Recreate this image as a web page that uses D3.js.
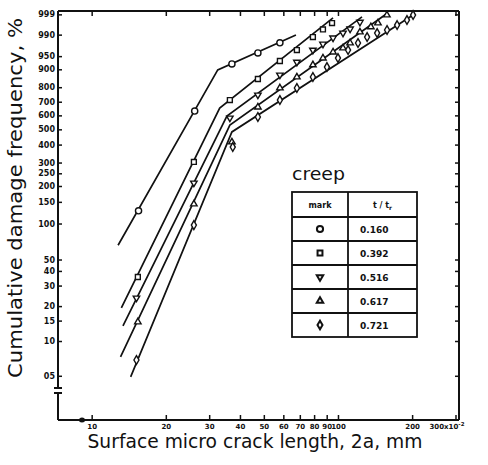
<!DOCTYPE html>
<html lang="en">
<head>
  <meta charset="UTF-8">
  <title>Cumulative damage frequency - creep</title>
  <script src="https://cdnjs.cloudflare.com/ajax/libs/d3/7.8.5/d3.min.js"></script>
  <style>
    body {
      margin: 0;
      background: white;
    }
    svg {
      display: block;
      background: white;
    }
    .tick text {
      font-family: "DejaVu Sans", sans-serif;
      font-weight: bold;
      font-size: 8px;
      fill: #111;
    }
    .xax .tick text {
      font-size: 7px;
    }
    .tick line {
      stroke: #111;
      stroke-width: 1.5;
    }
    .title {
      font-family: "DejaVu Sans", sans-serif;
      font-size: 19px;
      fill: #111;
    }
    .tbl {
      font-family: "DejaVu Sans", sans-serif;
      font-weight: bold;
      fill: #111;
    }
  </style>
</head>
<body>
  <script>
    // t/tr of each series, and the mark used for it
    var tRatio = ["0.160", "0.392", "0.516", "0.617", "0.721"];
    var marks = ["circle", "square", "down", "up", "diamond"];

    // measured points: [crack length (x10^-2 mm), cumulative frequency %]
    var pts160 = [[15.5, 12.7], [26.2, 63.2], [37.1, 92.3], [47.3, 95.9], [58.1, 98.0]];
    var pts392 = [[15.4, 3.55], [26.0, 30.3], [36.4, 71.2], [47.3, 85.0], [58.1, 93.4],
                  [68.1, 96.6], [79.1, 98.76], [86.9, 99.4], [94.6, 99.7]];
    var pts516 = [[15.2, 2.35], [26.0, 21.1], [36.4, 58.1], [47.3, 74.8], [58.1, 87.2],
                  [68.1, 93.0], [79.1, 96.6], [86.9, 97.8], [95.5, 98.66], [104.8, 99.14],
                  [112, 99.43], [122.8, 99.73]];
    var pts617 = [[15.4, 1.46], [26.0, 14.4], [37.1, 41.6], [47.3, 66.1], [58.1, 79.5],
                  [68.1, 86.1], [79.1, 91.9], [86.9, 94.4], [95.5, 96.1], [104.8, 97.05],
                  [112, 97.97], [122.8, 99.22], [136, 99.54], [145.3, 99.7], [158, 99.89]];
    var pts721 = [[15.2, 0.685], [26.0, 9.7], [37.4, 38.5], [47.3, 58.8], [58.1, 71.2],
                  [68.1, 79.5], [79.1, 86.1], [90.2, 91.0], [100, 94.4], [109.9, 96.6],
                  [120.6, 97.97], [131.3, 98.76], [144.2, 99.14], [158.2, 99.36],
                  [173.8, 99.62], [190.6, 99.79], [201.8, 99.89]];

    // fitted bilinear lines (start, knee, end)
    var fit160 = [[12.8, 6.6], [32.5, 89.7], [67.5, 98.96]];
    var fit392 = [[13.2, 1.93], [33.1, 65.4], [95.5, 99.84]];
    var fit516 = [[13.4, 1.35], [35.4, 59.5], [125.2, 99.86]];
    var fit617 = [[13.1, 0.73], [36.4, 53.0], [159.7, 99.92]];
    var fit721 = [[14.4, 0.49], [37.1, 48.2], [201.8, 99.89]];

    var xTicks = [10, 20, 30, 40, 50, 60, 70, 80, 90, 100, 200, 300];
    var xTickLabels = ["10", "20", "30", "40", "50", "60", "70", "80", "90", "100", "200", "300x10"];
    var yTicks = [99.9, 99, 95, 90, 80, 70, 60, 50, 40, 30, 25, 20, 15, 10, 5, 4, 3, 2, 1.5, 1, 0.5];
    var yTickLabels = ["999", "990", "950", "900", "800", "700", "600", "500", "400", "300",
                       "250", "200", "150", "100", "50", "40", "30", "20", "15", "10", "05"];

    var allPts = [pts160, pts392, pts516, pts617, pts721];
    var allFits = [fit160, fit392, fit516, fit617, fit721];

    var w = 488;
    var h = 465;
    var pLeft = 58, pRight = 459, pTop = 11, pBottom = 420;

    // weibull probability paper
    function wb(p) {
      return Math.log(-Math.log(1 - p / 100));
    }

    var svg = d3.select("body").append("svg")
      .attr("width", w)
      .attr("height", h);

    var xScale = d3.scaleLog()
      .domain([7.3, 310])
      .range([pLeft, pRight]);

    var yScale = d3.scaleLinear()
      .domain([-6.18, 2.0])
      .range([pBottom, pTop]);

    // axes, ticks pointing inward
    svg.append("g")
      .attr("transform", "translate(" + pLeft + ",0)")
      .call(d3.axisLeft(yScale)
        .tickValues(yTicks.map(wb))
        .tickFormat(function(d, i) { return yTickLabels[i]; })
        .tickSizeInner(-4).tickSizeOuter(0).tickPadding(3))
      .call(function(g) { g.select(".domain").remove(); });

    svg.append("g")
      .attr("transform", "translate(" + pRight + ",0)")
      .call(d3.axisRight(yScale)
        .tickValues(yTicks.map(wb))
        .tickFormat("")
        .tickSizeInner(-4).tickSizeOuter(0))
      .call(function(g) { g.select(".domain").remove(); });

    var xAxis = svg.append("g")
      .classed("xax", true)
      .attr("transform", "translate(0," + pBottom + ")")
      .call(d3.axisBottom(xScale)
        .tickValues(xTicks)
        .tickFormat(function(d, i) { return xTickLabels[i]; })
        .tickSizeInner(-5).tickSizeOuter(0).tickPadding(4))
      .call(function(g) { g.select(".domain").remove(); });

    // last label gets the x10^-2 suffix
    xAxis.selectAll(".tick text")
      .filter(function(d) { return d === 300; })
      .attr("dx", -9)
      .append("tspan")
      .attr("dy", -3)
      .style("font-size", "5.5px")
      .text("-2");

    svg.append("g")
      .attr("transform", "translate(0," + pTop + ")")
      .call(d3.axisTop(xScale)
        .tickValues(xTicks)
        .tickFormat("")
        .tickSizeInner(-5).tickSizeOuter(0))
      .call(function(g) { g.select(".domain").remove(); });

    // frame, with the break on the left axis
    var frame = svg.append("g")
      .attr("stroke", "#111")
      .attr("stroke-width", 2)
      .attr("fill", "none");
    frame.append("line").attr("x1", pLeft).attr("y1", pTop).attr("x2", pRight).attr("y2", pTop);
    frame.append("line").attr("x1", pRight).attr("y1", pTop).attr("x2", pRight).attr("y2", pBottom);
    frame.append("line").attr("x1", pLeft).attr("y1", pBottom).attr("x2", pRight).attr("y2", pBottom);
    frame.append("line").attr("x1", pLeft).attr("y1", pTop).attr("x2", pLeft).attr("y2", 388);
    frame.append("line").attr("x1", pLeft).attr("y1", 393).attr("x2", pLeft).attr("y2", pBottom);
    frame.append("line").attr("x1", pLeft - 4).attr("y1", 388).attr("x2", pLeft + 4).attr("y2", 388);
    frame.append("line").attr("x1", pLeft - 4).attr("y1", 393).attr("x2", pLeft + 4).attr("y2", 393);
    svg.append("ellipse")
      .attr("cx", 82).attr("cy", pBottom)
      .attr("rx", 3).attr("ry", 2.5)
      .attr("fill", "#111");

    var line = d3.line()
      .x(function(d) { return xScale(d[0]); })
      .y(function(d) { return yScale(wb(d[1])); });

    svg.selectAll(".fit")
      .data(allFits)
      .enter()
      .append("path")
      .classed("fit", true)
      .attr("d", line)
      .attr("fill", "none")
      .attr("stroke", "#111")
      .attr("stroke-width", 1.7);

    function markPath(m) {
      var t = d3.symbolCircle, size = 30;
      if (m === "square") { t = d3.symbolSquare; size = 24; }
      if (m === "down" || m === "up") { t = d3.symbolTriangle; size = 18; }
      if (m === "diamond") { t = d3.symbolDiamond; size = 22; }
      return d3.symbol().type(t).size(size)();
    }

    allPts.forEach(function(pts, s) {
      svg.selectAll(".pt" + s)
        .data(pts)
        .enter()
        .append("path")
        .attr("class", "pt" + s)
        .attr("d", markPath(marks[s]))
        .attr("transform", function(d) {
          return "translate(" + xScale(d[0]) + "," + yScale(wb(d[1])) + ")" +
            (marks[s] === "down" ? " rotate(180)" : "");
        })
        .attr("fill", "white")
        .attr("stroke", "#111")
        .attr("stroke-width", 1.4);
    });

    // axis titles
    svg.append("text")
      .classed("title", true)
      .attr("x", 255)
      .attr("y", 448)
      .attr("text-anchor", "middle")
      .attr("textLength", 335)
      .attr("lengthAdjust", "spacingAndGlyphs")
      .text("Surface micro crack length, 2a, mm");

    svg.append("text")
      .classed("title", true)
      .style("font-size", "20px")
      .attr("transform", "translate(22,198) rotate(-90)")
      .attr("text-anchor", "middle")
      .attr("textLength", 360)
      .attr("lengthAdjust", "spacingAndGlyphs")
      .text("Cumulative damage frequency, %");

    // legend table
    var tx = 292, tDiv = 348, tr = 417, ty = 192, headH = 25, rowH = 24;
    var tb = ty + headH + rowH * tRatio.length;

    svg.append("text")
      .classed("title", true)
      .attr("x", tx)
      .attr("y", 180)
      .style("font-size", "18px")
      .attr("textLength", 53)
      .attr("lengthAdjust", "spacingAndGlyphs")
      .text("creep");

    var tbl = svg.append("g")
      .attr("stroke", "#111")
      .attr("stroke-width", 1.8)
      .attr("fill", "none");
    tbl.append("rect")
      .attr("x", tx).attr("y", ty)
      .attr("width", tr - tx).attr("height", tb - ty);
    tbl.append("line").attr("x1", tDiv).attr("y1", ty).attr("x2", tDiv).attr("y2", tb);
    tbl.selectAll(".rowline")
      .data(tRatio)
      .enter()
      .append("line")
      .attr("x1", tx).attr("x2", tr)
      .attr("y1", function(d, i) { return ty + headH + rowH * i; })
      .attr("y2", function(d, i) { return ty + headH + rowH * i; });

    svg.append("text")
      .classed("tbl", true)
      .attr("x", (tx + tDiv) / 2)
      .attr("y", ty + 16)
      .attr("text-anchor", "middle")
      .style("font-size", "8px")
      .text("mark");

    var hd = svg.append("text")
      .classed("tbl", true)
      .attr("x", (tDiv + tr) / 2)
      .attr("y", ty + 16)
      .attr("text-anchor", "middle")
      .style("font-size", "8px")
      .text("t / t");
    hd.append("tspan")
      .attr("dy", 2)
      .style("font-size", "6px")
      .text("r");

    svg.selectAll(".tmark")
      .data(tRatio)
      .enter()
      .append("path")
      .classed("tmark", true)
      .attr("d", function(d, i) { return markPath(marks[i]); })
      .attr("transform", function(d, i) {
        return "translate(" + (tx + tDiv) / 2 + "," + (ty + headH + rowH * i + rowH / 2) + ")" +
          (marks[i] === "down" ? " rotate(180)" : "");
      })
      .attr("fill", "white")
      .attr("stroke", "#111")
      .attr("stroke-width", 2);

    svg.selectAll(".tval")
      .data(tRatio)
      .enter()
      .append("text")
      .classed("tbl", true)
      .attr("x", tDiv + 12)
      .attr("y", function(d, i) { return ty + headH + rowH * i + rowH / 2 + 4; })
      .style("font-size", "9px")
      .text(function(d) { return d; });
  </script>
</body>
</html>
